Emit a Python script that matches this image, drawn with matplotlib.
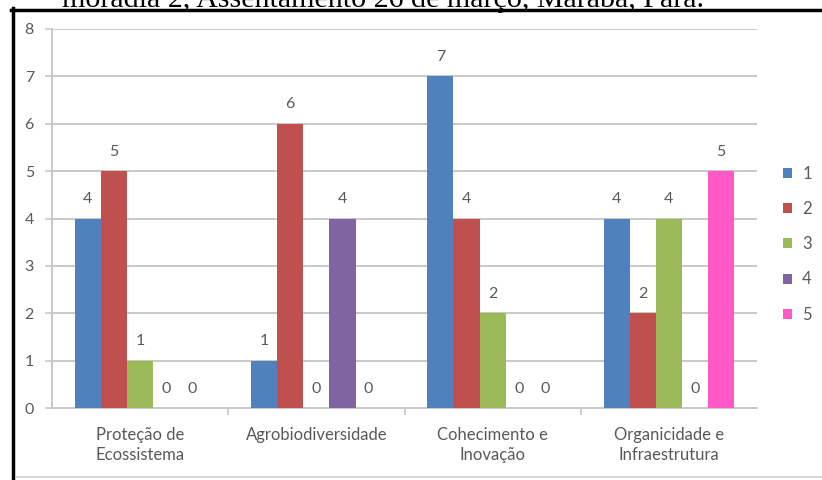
import matplotlib
matplotlib.use('Agg')
import matplotlib.pyplot as plt
import numpy as np
from matplotlib.patches import Patch
from matplotlib.lines import Line2D

categories = ['Proteção de\nEcossistema', 'Agrobiodiversidade',
              'Cohecimento e\nInovação', 'Organicidade e\nInfraestrutura']
series_names = ['1', '2', '3', '4', '5']
s1 = [4, 1, 7, 4]
s2 = [5, 6, 4, 2]
s3 = [1, 0, 2, 4]
s4 = [0, 4, 0, 0]
s5 = [0, 0, 0, 5]
series = [s1, s2, s3, s4, s5]
colors = ['#4F81BD', '#C0504D', '#9BBB59', '#8064A2', '#FF59C8']
caption = 'moradia 2, Assentamento 26 de março, Marabá, Pará.'

plt.rcParams['font.family'] = ['Lato', 'DejaVu Sans']
text_color = '#595959'
grid_color = '#C8C8C8'

W, H = 822, 480
fig = plt.figure(figsize=(W / 100, H / 100), dpi=100)

# plot area in pixels: x 52..757, y 29..408
ax = fig.add_axes([52 / W, 1 - 408 / H, 705 / W, 379 / H])

x = np.arange(len(categories))
bw = 0.148
for i, (vals, c, name) in enumerate(zip(series, colors, series_names)):
    pos = x + (i - 2) * bw
    bars = ax.bar(pos, vals, width=bw, color=c, label=name, zorder=3)
    for b, v in zip(bars, vals):
        ax.annotate(str(v), (b.get_x() + b.get_width() / 2, v),
                    xytext=(0, 14), textcoords='offset points',
                    ha='center', va='center', fontsize=11.5, color=text_color)

ax.set_xlim(-0.5, 3.5)
ax.set_ylim(0, 8)
ax.set_yticks(range(0, 9))
ax.yaxis.grid(True, color=grid_color, linewidth=1.4, zorder=0)
ax.set_xticks(x)
ax.set_xticklabels(categories, fontsize=12, color=text_color, linespacing=1.3)
ax.set_xticks([0.5, 1.5, 2.5], minor=True)
ax.tick_params(axis='x', which='major', length=0, pad=14)
ax.tick_params(axis='x', which='minor', length=5, color=grid_color, width=1.2)
ax.tick_params(axis='y', length=5, color=grid_color, width=1.2, pad=8,
               labelsize=11.5, labelcolor=text_color)
for side in ['top', 'right']:
    ax.spines[side].set_visible(False)
for side in ['left', 'bottom']:
    ax.spines[side].set_color(grid_color)
    ax.spines[side].set_linewidth(1.4)

handles = [Patch(facecolor=c, label=n) for c, n in zip(colors, series_names)]
fig.legend(handles=handles, loc='upper left',
           bbox_to_anchor=(768 / W, 1 - 151 / H), frameon=False,
           fontsize=12, handlelength=0.55, handleheight=0.55,
           handletextpad=0.6, labelspacing=1.15, labelcolor=text_color)

# caption cut off at the top of the picture
fig.text(62 / W, 1 - 7 / H, caption, family='Liberation Serif', fontsize=21.6,
         ha='left', va='baseline', color='black')

# frame around the chart
fig.add_artist(Line2D([11 / W, 1], [1 - 9.5 / H, 1 - 9.5 / H],
                      color='black', linewidth=2.5))
fig.add_artist(Line2D([12.5 / W, 12.5 / W], [0, 1 - 8 / H],
                      color='black', linewidth=2.5))
fig.add_artist(Line2D([16 / W, 1], [1 - 477 / H, 1 - 477 / H],
                      color='#D0D0D0', linewidth=1.2))

fig.savefig('out.png', dpi=100)
